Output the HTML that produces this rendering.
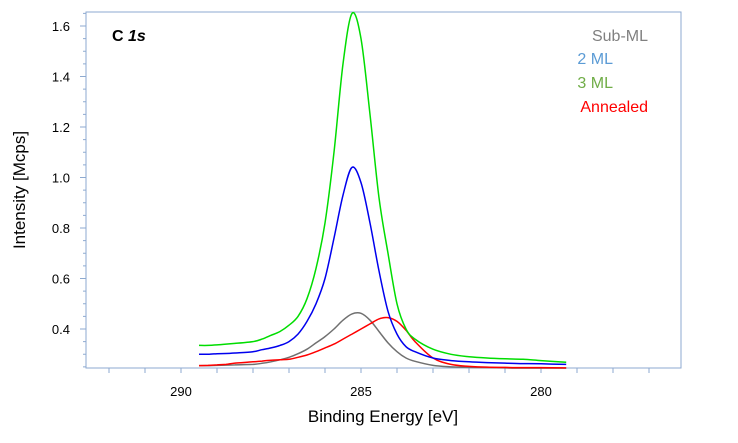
<!DOCTYPE html>
<html><head><meta charset="utf-8"><style>
body{margin:0;background:#fff;}
svg{display:block;font-family:"Liberation Sans",sans-serif;}
</style></head><body>
<svg id="chart" width="738" height="443" viewBox="0 0 738 443">
<rect x="86" y="12" width="595" height="356" fill="#fff" stroke="#8eaad0" stroke-width="1"/>
<g id="axes"></g>
<g id="series"></g>
<text x="112" y="41" font-size="16" font-weight="bold" fill="#000">C <tspan font-style="italic">1s</tspan></text>
<g font-size="16" text-anchor="end">
<text x="648" y="41" fill="#808080">Sub-ML</text>
<text x="613" y="64" fill="#5b9bd5">2 ML</text>
<text x="613" y="88" fill="#70ad47">3 ML</text>
<text x="648" y="112" fill="#ff0000">Annealed</text>
</g>
<text x="383" y="422" font-size="17" text-anchor="middle" fill="#000">Binding Energy [eV]</text>
<text transform="translate(25,190) rotate(-90)" font-size="17" text-anchor="middle" fill="#000">Intensity [Mcps]</text>
</svg>
<script>
const energies=[289.5,289.25,289,288.75,288.5,288,287.75,287.5,287.25,287,286.75,286.5,286.25,286,285.75,285.5,285.25,285,284.75,284.5,284.25,284,283.75,283.5,283,282.5,282,281.5,281,280.5,280,279.3];
const subML=[0.255,0.255,0.256,0.257,0.258,0.26,0.264,0.27,0.278,0.288,0.302,0.32,0.345,0.37,0.40,0.435,0.46,0.462,0.435,0.39,0.345,0.31,0.285,0.272,0.256,0.25,0.248,0.247,0.246,0.245,0.245,0.245];
const twoML=[0.30,0.30,0.302,0.303,0.305,0.31,0.318,0.325,0.335,0.35,0.38,0.43,0.50,0.60,0.76,0.93,1.04,0.98,0.82,0.63,0.47,0.38,0.33,0.31,0.285,0.275,0.27,0.267,0.265,0.263,0.262,0.26];
const threeML=[0.335,0.335,0.337,0.34,0.343,0.35,0.36,0.375,0.39,0.415,0.45,0.52,0.64,0.82,1.10,1.45,1.65,1.55,1.25,0.92,0.70,0.50,0.40,0.36,0.32,0.30,0.29,0.285,0.282,0.28,0.275,0.268];
const annealed=[0.255,0.256,0.258,0.26,0.265,0.27,0.273,0.276,0.278,0.28,0.288,0.297,0.31,0.325,0.34,0.36,0.38,0.40,0.42,0.44,0.445,0.43,0.395,0.35,0.285,0.26,0.252,0.249,0.248,0.247,0.247,0.246];
const xTicks=[290,285,280];
const yTicks=[0.4,0.6,0.8,1.0,1.2,1.4,1.6];
const xs=e=>181+(290-e)*36;
const ys=v=>329-(v-0.4)*252.5;
const NS="http://www.w3.org/2000/svg";
const axes=document.getElementById('axes');
function mk(t,a,p){const el=document.createElementNS(NS,t);for(const k in a)el.setAttribute(k,a[k]);p.appendChild(el);return el;}
for(let e=292;e>=277;e--){
  const t=mk('line',{x1:xs(e),x2:xs(e),y1:368,y2:373,stroke:'#8eaad0'},axes);
  
  
}
xTicks.forEach(v=>{
  const t=mk('text',{x:xs(v),y:396,'font-size':13,'text-anchor':'middle',fill:'#000'},axes);
  t.textContent=v;
  
  
});
for(let v=0.25;v<=1.651;v+=0.05){
  const major=Math.abs(v*10-Math.round(v*10))<0.01&&Math.round(v*10)%2===0;
  const t=mk('line',{x1:major?80:83,x2:86,y1:ys(v),y2:ys(v),stroke:'#8eaad0'},axes);
  
  
}
yTicks.forEach(v=>{
  const t=mk('text',{x:70,y:ys(v)+5,'font-size':13,'text-anchor':'end',fill:'#000'},axes);
  t.textContent=v.toFixed(1);
  
  
});
const ser=document.getElementById('series');
function line(vals,color,name){
  const pts=vals.map((v,i)=>[xs(energies[i]),ys(v)]);
  let d='M'+pts[0][0].toFixed(1)+','+pts[0][1].toFixed(1);
  for(let i=0;i<pts.length-1;i++){
    const p0=pts[Math.max(0,i-1)],p1=pts[i],p2=pts[i+1],p3=pts[Math.min(pts.length-1,i+2)];
    const c1=[p1[0]+(p2[0]-p0[0])/6,p1[1]+(p2[1]-p0[1])/6];
    const c2=[p2[0]-(p3[0]-p1[0])/6,p2[1]-(p3[1]-p1[1])/6];
    d+=' C'+c1[0].toFixed(1)+','+c1[1].toFixed(1)+' '+c2[0].toFixed(1)+','+c2[1].toFixed(1)+' '+p2[0].toFixed(1)+','+p2[1].toFixed(1);
  }
  const p=mk('path',{d:d,fill:'none',stroke:color,'stroke-width':1.5,'stroke-linejoin':'round'},ser);
  
  
}
line(subML,'#707070','series-sub-ml');
line(annealed,'#ff0000','series-annealed');
line(twoML,'#0000ee','series-2-ml');
line(threeML,'#00dd00','series-3-ml');
</script>
</body></html>
